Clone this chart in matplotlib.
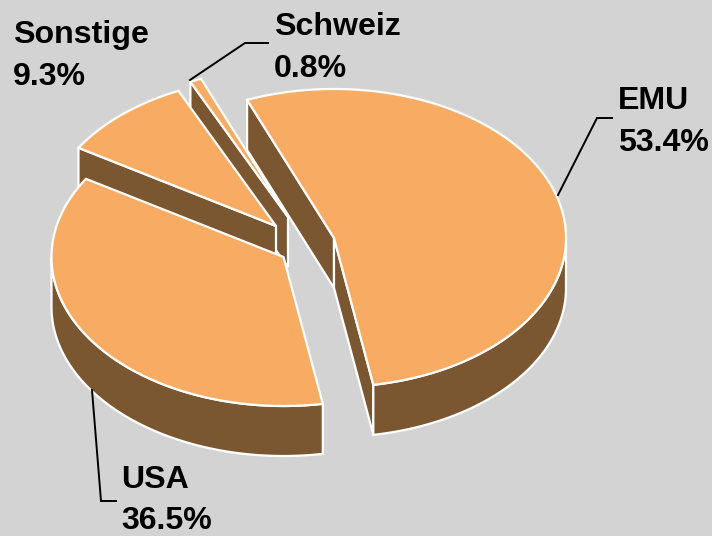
import numpy as np
import matplotlib
matplotlib.use("Agg")
import matplotlib.pyplot as plt
from matplotlib.patches import Polygon

names = ["EMU", "USA", "Sonstige", "Schweiz"]
shares = [53.4, 36.5, 9.3, 0.8]

# apex of each exploded slice, pixels
centers = [(334, 238), (283.5, 257), (276, 226), (288, 217)]
label_pos = [(618, 122), (121, 500.5), (13, 56), (274, 48)]
leaders = [
    [(558, 195), (597, 118), (612, 118)],
    [(92, 390), (101, 501), (116, 501)],
    [],
    [(190, 80), (245, 43), (268, 43)],
]

rx = 232
ry = 149
depth = 50
start = -22.0
top_col = "#F8AC63"
side_col = "#7A5730"
bg = "#D3D3D3"

fig = plt.figure(figsize=(7.12, 5.36), dpi=100, facecolor=bg)
ax = fig.add_axes([0, 0, 1, 1])
ax.set_xlim(0, 712)
ax.set_ylim(536, 0)
ax.axis("off")


def rim(c, t0, t1):
    # t is degrees clockwise from the top of the ellipse
    t = np.radians(np.linspace(t0, t1, max(int(abs(t1 - t0)) * 2, 2)))
    return np.column_stack([c[0] + rx * np.sin(t), c[1] - ry * np.cos(t)])


def poly(pts, col, z):
    ax.add_patch(Polygon(pts, closed=True, facecolor=col, edgecolor="white",
                         linewidth=1.6, joinstyle="miter", zorder=z))


def cut_wall(c, t, z):
    p = rim(c, t, t)[0]
    poly([c, p, (p[0], p[1] + depth), (c[0], c[1] + depth)], side_col, z)


def outer_wall(c, t0, t1, z):
    r = rim(c, t0, t1)
    low = r[::-1] + [0, depth]
    poly(np.vstack([r, low]), side_col, z)


def top(c, t0, t1, z):
    poly(np.vstack([[c], rim(c, t0, t1)]), top_col, z)


edges = start + np.concatenate([[0], np.cumsum(shares)]) * 3.6
t_emu = edges[0], edges[1]
t_usa = edges[1], edges[2]
t_son = edges[2], edges[3]
t_sch = edges[3], edges[4]

# back to front
cut_wall(centers[3], t_sch[0], 1)
top(centers[3], *t_sch, 2)

cut_wall(centers[2], t_son[0], 3)
top(centers[2], *t_son, 4)

cut_wall(centers[0], t_emu[0], 5)
cut_wall(centers[0], t_emu[1], 5)
outer_wall(centers[0], 90, t_emu[1], 5)
top(centers[0], *t_emu, 6)

outer_wall(centers[1], t_usa[0], 270, 7)
top(centers[1], *t_usa, 8)

for i in range(len(names)):
    if leaders[i]:
        xs, ys = zip(*leaders[i])
        ax.plot(xs, ys, color="black", lw=1.4, solid_joinstyle="miter", zorder=9)
    ax.text(label_pos[i][0], label_pos[i][1], names[i] + "\n" + "%.1f%%" % shares[i],
            family="Liberation Sans", weight="bold", fontsize=23.1, color="black",
            ha="left", va="center", linespacing=1.52, zorder=10)

fig.savefig("out.png", dpi=100, facecolor=bg)
